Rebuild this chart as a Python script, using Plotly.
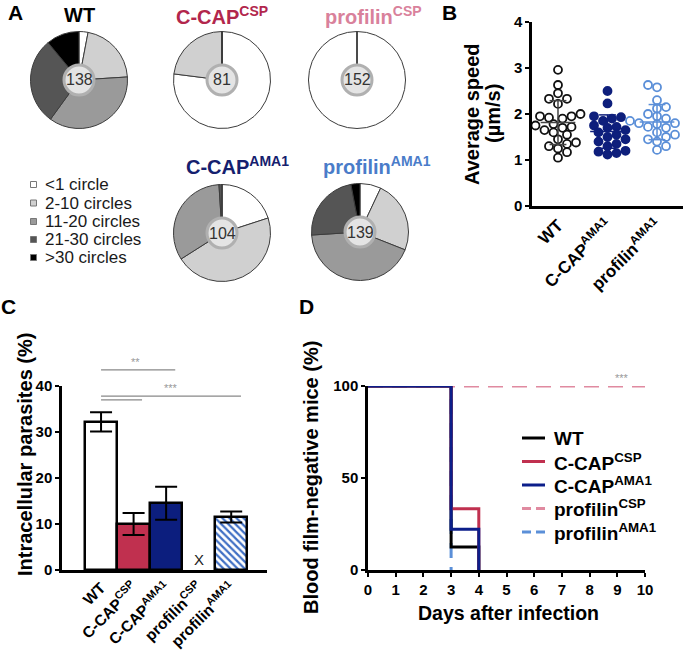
import numpy as np
import plotly.graph_objects as go

W, H = 683, 653
FONT = "Liberation Sans, Arial, Helvetica, sans-serif"


def px(x):
    return x / W


def py(y):
    return 1 - y / H


# ---------------- Panel A data ----------------
bin_labels = ["&lt;1 circle", "2-10 circles", "11-20 circles", "21-30 circles", "&gt;30 circles"]
bin_colors = ["#ffffff", "#d0d0d0", "#9a9a9a", "#555555", "#000000"]
pie_titles = ["WT", "C-CAP<sup>CSP</sup>", "profilin<sup>CSP</sup>", "C-CAP<sup>AMA1</sup>", "profilin<sup>AMA1</sup>"]
pie_title_colors = ["#000000", "#b2264c", "#d9819b", "#15206e", "#4a7cc9"]
pie_counts = [138, 81, 152, 104, 139]
wt_circles = [3, 21, 36, 29, 11]
ccap_csp_circles = [77, 23, 0, 0, 0]
prof_csp_circles = [100, 0, 0, 0, 0]
ccap_ama1_circles = [20, 46, 33, 1, 0]
prof_ama1_circles = [7, 24, 43, 23, 3]

# ---------------- Panel B data ----------------
speed_groups = ["WT", "C-CAP<sup>AMA1</sup>", "profilin<sup>AMA1</sup>"]
speed_wt = [2.96, 2.63, 2.45, 2.33, 2.33, 2.22, 2.0, 1.95, 1.95, 1.92, 1.9, 1.78, 1.75,
            1.72, 1.7, 1.65, 1.6, 1.55, 1.45, 1.38, 1.35, 1.3, 1.25, 1.17, 1.05]
speed_ccap_ama1 = [2.5, 2.23, 1.95, 1.93, 1.9, 1.85, 1.75, 1.72, 1.7, 1.65, 1.6, 1.55,
                   1.5, 1.45, 1.4, 1.35, 1.3, 1.2, 1.18, 1.15, 1.12]
speed_prof_ama1 = [2.63, 2.58, 2.3, 2.15, 2.12, 2.0, 1.95, 1.9, 1.85, 1.8, 1.8, 1.78,
                   1.72, 1.7, 1.6, 1.55, 1.5, 1.45, 1.4, 1.3, 1.22]
speed_colors = ["#111111", "#0e1f7c", "#5b8fd8"]

# ---------------- Panel C data ----------------
invasion_groups = ["WT", "C-CAP<sup>CSP</sup>", "C-CAP<sup>AMA1</sup>", "profilin<sup>CSP</sup>", "profilin<sup>AMA1</sup>"]
invasion_mean = [32.2, 10.0, 14.5, None, 11.5]
invasion_err = [2.1, 2.4, 3.6, None, 1.2]
invasion_colors = ["#ffffff", "#c0304f", "#0c1e7e", "#ffffff", "#3f6fc4"]
invasion_hatch = ["", "", "", "", "\\"]

# ---------------- Panel D data ----------------
surv_names = ["WT", "C-CAP<sup>CSP</sup>", "C-CAP<sup>AMA1</sup>", "profilin<sup>CSP</sup>", "profilin<sup>AMA1</sup>"]
surv_days = [[0, 3, 4], [0, 3, 4], [0, 3, 4], [0, 10], [0, 3]]
surv_pct = [[100, 12.5, 0], [100, 33.3, 0], [100, 22.2, 0], [100, 100], [100, 0]]
surv_colors = ["#000000", "#c0304f", "#0c1e8a", "#e08aa0", "#5b8fd8"]
surv_dash = ["solid", "solid", "solid", "15px,9px", "15px,9px"]
day_ticks = list(range(0, 11))

fig = go.Figure()

# ---------------- Panel A: pies ----------------
pie_centers = [(79, 80), (222, 80), (357, 80), (222, 233), (360, 232)]
title_pos = [(79, 15), (222, 15), (373, 15), (237, 166), (377, 166)]
R = 48.5
pie_values = [wt_circles, ccap_csp_circles, prof_csp_circles, ccap_ama1_circles, prof_ama1_circles]
for vals, (cx, cy) in zip(pie_values, pie_centers):
    fig.add_trace(go.Pie(
        labels=bin_labels, values=vals, sort=False, direction="clockwise", rotation=0,
        marker=dict(colors=bin_colors, line=dict(color="#3c3c3c", width=1)),
        textinfo="none", hoverinfo="skip", showlegend=False,
        domain=dict(x=[px(cx - R), px(cx + R)], y=[py(cy + R), py(cy - R)])))

shapes = []
annotations = []


def ann(text, x, y, size, color="#000000", xanchor="center", yanchor="middle", angle=0,
        xref="paper", yref="paper"):
    return dict(text=text, x=x, y=y, xref=xref, yref=yref, showarrow=False, xanchor=xanchor,
                yanchor=yanchor, textangle=angle, font=dict(family=FONT, size=size, color=color))


# radial line of the 100% pie
cx, cy = pie_centers[2]
shapes.append(dict(type="line", xref="paper", yref="paper", x0=px(cx), x1=px(cx),
                   y0=py(cy), y1=py(cy - R), line=dict(color="#555555", width=1.2), layer="above"))
for n, (cx, cy) in zip(pie_counts, pie_centers):
    r = 15
    shapes.append(dict(type="circle", xref="paper", yref="paper", x0=px(cx - r), x1=px(cx + r),
                       y0=py(cy + r), y1=py(cy - r), fillcolor="#e4e4e4",
                       line=dict(color="#b0b0b0", width=3), layer="above"))
    annotations.append(ann(str(n), px(cx), py(cy), 16, "#333333"))
for t, c, (tx, ty) in zip(pie_titles, pie_title_colors, title_pos):
    annotations.append(ann("<b>" + t + "</b>", px(tx), py(ty), 20, c))

# legend for pies
leg_rows = [184.5, 203, 221.5, 239.5, 257.5]
for lab, col, yy in zip(bin_labels, bin_colors, leg_rows):
    shapes.append(dict(type="rect", xref="paper", yref="paper", x0=px(30.5), x1=px(36.5),
                       y0=py(yy + 3), y1=py(yy - 3), fillcolor=col,
                       line=dict(color="#777777", width=1)))
    annotations.append(ann(lab, px(43), py(yy), 17, "#1a1a1a", xanchor="left"))

# ---------------- Panel B: scatter ----------------
B_XR = [-0.525, 2.525]
B_YR = [0, 4]


def swarm_offsets(values, diam, ppu_y, ppu_x):
    vals = np.asarray(values, float)
    order = np.argsort(vals)
    placed = []
    offs = np.zeros(len(vals))
    step = diam * 0.6
    for j, i in enumerate(order):
        y = vals[i] * ppu_y
        k = 0
        chosen = None
        while chosen is None:
            if k == 0:
                cands = [0.0]
            else:
                cands = [k * step, -k * step] if j % 2 else [-k * step, k * step]
            for c in cands:
                if all((c - a) ** 2 + (y - b) ** 2 >= diam ** 2 for a, b in placed):
                    chosen = c
                    break
            k += 1
        placed.append((chosen, y))
        offs[i] = chosen / ppu_x
    return offs


groups = [speed_wt, speed_ccap_ama1, speed_prof_ama1]
for gi, (vals, col) in enumerate(zip(groups, speed_colors)):
    offs = swarm_offsets(vals, 7.5, 46.0, 49.5)
    filled = gi == 1
    fig.add_trace(go.Scatter(
        x=gi + offs, y=vals, mode="markers", xaxis="x", yaxis="y", showlegend=False,
        hoverinfo="skip", cliponaxis=False,
        marker=dict(size=8, color=col if filled else "rgba(255,255,255,0)",
                    line=dict(color=col, width=1.8), symbol="circle")))
for gi, (vals, col) in enumerate(zip(groups, speed_colors)):
    m = float(np.mean(vals))
    s = float(np.std(vals, ddof=1))
    lc = "#444444" if gi == 0 else col
    xs = [gi - 0.35, gi + 0.35, None, gi, gi, None, gi - 0.17, gi + 0.17, None, gi - 0.17, gi + 0.17]
    ys = [m, m, None, m - s, m + s, None, m - s, m - s, None, m + s, m + s]
    fig.add_trace(go.Scatter(x=xs, y=ys, mode="lines", xaxis="x", yaxis="y", showlegend=False,
                             hoverinfo="skip", line=dict(color=lc, width=1.5)))

# ---------------- Panel C: bars ----------------
C_XR = [-1.2, 5.1]
C_YR = [0, 40]
xc = list(range(len(invasion_groups)))
solid_idx = [i for i, h in enumerate(invasion_hatch) if h == ""]
hatch_idx = [i for i, h in enumerate(invasion_hatch) if h != ""]
fig.add_trace(go.Bar(
    x=[xc[i] for i in solid_idx], y=[invasion_mean[i] for i in solid_idx], xaxis="x2", yaxis="y2",
    width=1.0, showlegend=False, hoverinfo="skip",
    marker=dict(color=[invasion_colors[i] for i in solid_idx], line=dict(color="#000000", width=2.5)),
    error_y=dict(type="data", array=[invasion_err[i] for i in solid_idx], visible=True,
                 color="#000000", thickness=2, width=11)))
fig.add_trace(go.Bar(
    x=[xc[i] for i in hatch_idx], y=[invasion_mean[i] for i in hatch_idx], xaxis="x2", yaxis="y2",
    width=1.0, showlegend=False, hoverinfo="skip",
    marker=dict(color="#ffffff", line=dict(color="#000000", width=2.5),
                pattern=dict(shape=invasion_hatch[hatch_idx[0]], fgcolor=invasion_colors[hatch_idx[0]],
                             bgcolor="#ffffff", fgopacity=1, size=5, solidity=0.45, fillmode="replace")),
    error_y=dict(type="data", array=[invasion_err[i] for i in hatch_idx], visible=True,
                 color="#000000", thickness=2, width=11)))
annotations.append(ann("X", 3, 2.3, 15, "#222222", xref="x2", yref="y2"))

C_XD = [px(62), px(267)]
C_YD = [py(570), py(386)]


def cpx(v):
    return C_XD[0] + (v - C_XR[0]) / (C_XR[1] - C_XR[0]) * (C_XD[1] - C_XD[0])


def cpy(v):
    return C_YD[0] + (v - C_YR[0]) / (C_YR[1] - C_YR[0]) * (C_YD[1] - C_YD[0])


sig_lines = [(0, 2.28, 43.5), (0, 4.3, 37.8), (0, 1.26, 37.0)]
for a, b, yv in sig_lines:
    shapes.append(dict(type="line", xref="paper", yref="paper", x0=cpx(a), x1=cpx(b),
                       y0=cpy(yv), y1=cpy(yv), line=dict(color="#888888", width=1.2)))
annotations.append(ann("**", cpx(1.05), cpy(45.3), 11, "#999999"))
annotations.append(ann("***", cpx(2.15), cpy(39.6), 11, "#999999"))

# ---------------- Panel D: survival ----------------
D_XR = [0, 10]
D_YR = [0, 100]
for idx in [4, 3, 0, 1, 2]:
    fig.add_trace(go.Scatter(
        x=surv_days[idx], y=surv_pct[idx], mode="lines", line_shape="hv", xaxis="x3", yaxis="y3",
        showlegend=False, hoverinfo="skip", cliponaxis=False,
        line=dict(color=surv_colors[idx], width=3, dash=surv_dash[idx])))

D_XD = [px(368), px(645)]
D_YD = [py(570), py(386)]


def dpx(v):
    return D_XD[0] + (v - D_XR[0]) / (D_XR[1] - D_XR[0]) * (D_XD[1] - D_XD[0])


def dpy(v):
    return D_YD[0] + (v - D_YR[0]) / (D_YR[1] - D_YR[0]) * (D_YD[1] - D_YD[0])


annotations.append(ann("***", dpx(9.17), dpy(104.5), 11, "#999999"))

# manual legend for D
d_leg_rows = [438, 461.5, 485, 508.5, 532]
for name, col, dsh, yy in zip(surv_names, surv_colors, surv_dash, d_leg_rows):
    shapes.append(dict(type="line", xref="paper", yref="paper", x0=px(522), x1=px(545),
                       y0=py(yy), y1=py(yy), line=dict(color=col, width=3,
                                                        dash="9px,5px" if dsh != "solid" else "solid")))
    annotations.append(ann("<b>" + name + "</b>", px(552), py(yy), 19, xanchor="left"))

# ---------------- titles & panel letters ----------------
annotations += [
    ann("<b>Average speed</b>", px(472), py(114), 20, angle=-90),
    ann("<b>(µm/s)</b>", px(493), py(114), 20, angle=-90),
    ann("<b>Intracellular parasites (%)</b>", px(25), py(455), 20, angle=-90),
    ann("<b>Blood film-negative mice (%)</b>", px(311), py(478), 20, angle=-90),
    ann("<b>Days after infection</b>", px(508), py(613), 19.5),
    ann("<b>A</b>", px(15), py(13), 21),
    ann("<b>B</b>", px(449), py(13), 21),
    ann("<b>C</b>", px(8), py(306), 21),
    ann("<b>D</b>", px(306), py(306), 21),
]

axis_common = dict(showgrid=False, zeroline=False, showline=True, linecolor="#000000", linewidth=2.5)
tick_small = dict(family=FONT, size=15, color="#000000", weight="bold")
tick_cat = dict(family=FONT, size=17, color="#000000", weight="bold")
tick_cat_c = dict(family=FONT, size=15.5, color="#000000", weight="bold")
yt = dict(ticks="outside", ticklen=4, tickwidth=2, tickcolor="#000000")

fig.update_layout(
    template="none",
    width=W, height=H, autosize=False, margin=dict(l=0, r=0, t=0, b=0, pad=0),
    paper_bgcolor="#ffffff", plot_bgcolor="#ffffff", showlegend=False,
    font=dict(family=FONT, color="#000000"),
    xaxis=dict(domain=[px(532), 1.0], range=B_XR, tickvals=[0, 1, 2], ticktext=speed_groups,
               tickangle=-45, ticks="", anchor="y", tickfont=tick_cat, **axis_common),
    yaxis=dict(domain=[py(206), py(22)], range=B_YR, tickvals=[0, 1, 2, 3, 4], anchor="x",
               tickfont=tick_small, **axis_common, **yt),
    xaxis2=dict(domain=C_XD, range=C_XR, tickvals=xc, ticktext=invasion_groups, tickangle=-45,
                ticks="", anchor="y2", tickfont=tick_cat_c, **axis_common),
    yaxis2=dict(domain=C_YD, range=C_YR, tickvals=[0, 10, 20, 30, 40], anchor="x2",
                tickfont=tick_small, **axis_common, **yt),
    xaxis3=dict(domain=D_XD, range=D_XR, tickvals=day_ticks, anchor="y3",
                tickfont=tick_small, **axis_common, **yt),
    yaxis3=dict(domain=D_YD, range=D_YR, tickvals=[0, 50, 100], anchor="x3",
                tickfont=tick_small, **axis_common, **yt),
    shapes=shapes, annotations=annotations, bargap=0, barmode="overlay",
)

fig.write_html("out.html", config={"displayModeBar": False},
               post_script="document.body.style.margin='0';document.body.style.overflow='hidden';")
